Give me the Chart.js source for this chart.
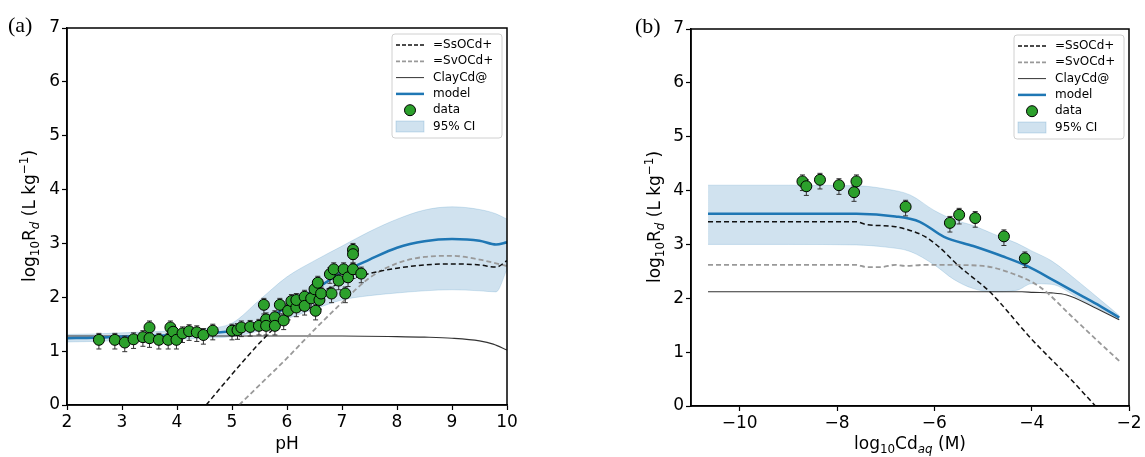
<!DOCTYPE html>
<html>
<head>
<meta charset="utf-8">
<script src="https://cdn.jsdelivr.net/npm/chart.js@4.4.0/dist/chart.umd.min.js"></script>
<style>
    body { margin: 0; background: #fff; width: 1145px; height: 457px; position: relative; overflow: hidden; }
    canvas { position: absolute; top: 0; }
    .painel { position: absolute; font-family: "Liberation Serif", serif; font-size: 22px; color: #000; }
    .titulo { position: absolute; font-family: "DejaVu Sans", sans-serif; font-size: 17px; color: #000; white-space: nowrap; transform: translate(-50%, -50%); }
    .titulo.rot { transform: translate(-50%, -50%) rotate(-90deg); }
    .titulo sub { font-size: 70%; vertical-align: -0.3em; line-height: 0; }
    .titulo sup { font-size: 70%; vertical-align: 0.55em; line-height: 0; }
</style>
</head>
<body>
<canvas id="graficoPH" width="560" height="457" style="left:0"></canvas>
<canvas id="graficoCd" width="525" height="457" style="left:620px"></canvas>
<div class="painel" style="left:8px;top:12px">(a)</div>
<div class="painel" style="left:635px;top:13px">(b)</div>
<div class="titulo rot" style="left:29px;top:216px">log<sub>10</sub>R<sub><i>d</i></sub> (L kg<sup>−1</sup>)</div>
<div class="titulo rot" style="left:654px;top:217px">log<sub>10</sub>R<sub><i>d</i></sub> (L kg<sup>−1</sup>)</div>
<div class="titulo" style="left:287px;top:443px">pH</div>
<div class="titulo" style="left:910px;top:443px">log<sub>10</sub>Cd<sub><i>aq</i></sub> (M)</div>
<script>
// ---- painel (a): Rd vs pH ----
const ticksPH = [2, 3, 4, 5, 6, 7, 8, 9, 10];
const ticksRd = [0, 1, 2, 3, 4, 5, 6, 7];

const phObs = [2.58, 2.87, 3.05, 3.21, 3.38, 3.50, 3.50, 3.67, 3.84, 3.88, 3.93, 3.99, 4.10, 4.22, 4.36, 4.48, 4.65,
    5.00, 5.10, 5.17, 5.33, 5.49, 5.58, 5.62, 5.62, 5.78, 5.78, 5.87, 5.94, 6.02, 6.08, 6.17, 6.17, 6.32, 6.32, 6.44,
    6.50, 6.52, 6.56, 6.59, 6.62, 6.78, 6.81, 6.85, 6.94, 7.03, 7.06, 7.11, 7.20, 7.20, 7.20, 7.35];
const rdObsPH = [1.21, 1.21, 1.16, 1.22, 1.26, 1.44, 1.24, 1.21, 1.21, 1.44, 1.36, 1.21, 1.33, 1.37, 1.35, 1.30, 1.38,
    1.38, 1.39, 1.44, 1.45, 1.47, 1.86, 1.59, 1.47, 1.63, 1.47, 1.86, 1.57, 1.75, 1.93, 1.81, 1.95, 2.01, 1.84, 1.98,
    2.15, 1.75, 2.27, 1.95, 2.07, 2.43, 2.07, 2.52, 2.31, 2.52, 2.07, 2.37, 2.52, 2.88, 2.80, 2.44];
// barras de erro: abaixo / acima do ponto
const erroInfPH = 0.17;
const erroSupPH = 0.12;

const phModelo = [2, 2.5, 3, 3.5, 4, 4.5, 5, 5.5, 6, 6.5, 7, 7.5, 8, 8.5, 9, 9.5, 9.8, 10];
const modeloPH = [1.24, 1.25, 1.27, 1.28, 1.30, 1.33, 1.38, 1.53, 1.82, 2.14, 2.46, 2.70, 2.92, 3.04, 3.08, 3.05, 2.98, 3.02];
const ciSupPH = [1.31, 1.32, 1.34, 1.36, 1.38, 1.42, 1.52, 1.95, 2.38, 2.68, 2.95, 3.22, 3.45, 3.62, 3.68, 3.63, 3.55, 3.45];
const ciInfPH = [1.17, 1.18, 1.20, 1.21, 1.22, 1.24, 1.27, 1.38, 1.60, 1.78, 1.95, 2.03, 2.08, 2.12, 2.14, 2.12, 2.10, 2.52];

const phSs = [4.53, 5.0, 5.5, 6.0, 6.5, 7.0, 7.5, 8.0, 8.5, 9.0, 9.5, 9.8, 10];
const ssPH = [0, 0.57, 1.15, 1.65, 2.02, 2.28, 2.44, 2.54, 2.60, 2.62, 2.60, 2.56, 2.68];
const phSv = [5.13, 5.5, 6.0, 6.5, 7.0, 7.5, 8.0, 8.5, 9.0, 9.5, 9.8, 10];
const svPH = [0, 0.37, 0.87, 1.40, 1.90, 2.36, 2.63, 2.75, 2.77, 2.70, 2.63, 2.58];
const phClay = [2, 3, 4, 5, 6, 7, 8, 8.5, 9, 9.5, 9.75, 10];
const clayPH = [1.28, 1.28, 1.28, 1.28, 1.28, 1.28, 1.27, 1.26, 1.24, 1.19, 1.13, 1.02];

// ---- painel (b): Rd vs log10 Cd ----
const ticksCd = [-10, -8, -6, -4, -2];

const cdObs = [-8.71, -8.63, -8.35, -7.96, -7.65, -7.60, -6.59, -5.68, -5.49, -5.16, -4.57, -4.14];
const rdObsCd = [4.17, 4.08, 4.20, 4.10, 3.97, 4.17, 3.70, 3.40, 3.55, 3.49, 3.15, 2.74];
const erroInfCd = 0.17;
const erroSupCd = 0.12;

const cdModelo = [-10.65, -9, -7.6, -6.8, -6.3, -5.8, -5.2, -4.6, -4.1, -3.5, -3.0, -2.6, -2.2];
const modeloCd = [3.57, 3.57, 3.57, 3.52, 3.42, 3.14, 2.97, 2.78, 2.60, 2.31, 2.06, 1.86, 1.64];
const cdCI = [-10.65, -9, -7.6, -7.0, -6.5, -6.0, -5.6, -5.2, -4.8, -4.3, -4.0, -3.6, -3.0, -2.6, -2.2];
const ciSupCd = [4.10, 4.10, 4.09, 4.03, 3.92, 3.63, 3.46, 3.35, 3.20, 3.02, 2.88, 2.70, 2.28, 1.98, 1.68];
const ciInfCd = [3.00, 3.00, 2.99, 2.95, 2.87, 2.62, 2.35, 2.18, 2.12, 2.15, 2.27, 2.26, 1.98, 1.80, 1.60];

const cdSs = [-10.65, -7.6, -7.4, -6.8, -6.5, -6.2, -5.9, -5.5, -5.2, -4.86, -4.0, -3.21, -2.69];
const ssCd = [3.42, 3.42, 3.37, 3.33, 3.26, 3.15, 2.95, 2.60, 2.38, 2.12, 1.24, 0.51, 0];
const cdSv = [-10.65, -7.6, -7.4, -7.1, -6.8, -6.6, -6.2, -5.8, -5.0, -4.4, -3.83, -3.14, -2.6, -2.18];
const svCd = [2.62, 2.62, 2.58, 2.58, 2.62, 2.60, 2.62, 2.62, 2.60, 2.46, 2.21, 1.63, 1.17, 0.82];
const cdClay = [-10.65, -4.2, -3.97, -3.6, -3.28, -2.73, -2.2];
const clayCd = [2.12, 2.12, 2.11, 2.10, 2.06, 1.84, 1.60];

const corModelo = '#1f77b4';
const corBanda = 'rgba(31, 119, 180, 0.21)';
const corPonto = '#2ca02c';
const fonte = '"DejaVu Sans", sans-serif';

function pares(xs, ys) {
    return xs.map((x, i) => ({ x: x, y: ys[i] }));
}

const barrasErro = {
    id: 'barrasErro',
    beforeDatasetDraw(chart, args) {
        const ds = chart.data.datasets[args.index];
        if (ds.erroInf === undefined) return;
        const ctx = chart.ctx;
        const y = chart.scales.y;
        ctx.save();
        ctx.strokeStyle = '#333';
        ctx.lineWidth = 1;
        args.meta.data.forEach((p, i) => {
            const v = ds.data[i].y;
            const y1 = y.getPixelForValue(v - ds.erroInf);
            const y2 = y.getPixelForValue(v + ds.erroSup);
            ctx.beginPath();
            ctx.moveTo(p.x, y1); ctx.lineTo(p.x, y2);
            ctx.moveTo(p.x - 2.5, y1); ctx.lineTo(p.x + 2.5, y1);
            ctx.moveTo(p.x - 2.5, y2); ctx.lineTo(p.x + 2.5, y2);
            ctx.stroke();
        });
        ctx.restore();
    }
};

const moldura = {
    id: 'moldura',
    afterDraw(chart) {
        const a = chart.chartArea;
        const ctx = chart.ctx;
        ctx.save();
        ctx.strokeStyle = '#000';
        ctx.lineWidth = 1.5;
        ctx.strokeRect(a.left, a.top, a.right - a.left, a.bottom - a.top);
        ctx.restore();
    }
};

const itensLegenda = [
    { texto: '=SsOCd+', tipo: 'linha', cor: '#111', largura: 1.5, traco: [4, 2] },
    { texto: '=SvOCd+', tipo: 'linha', cor: '#999', largura: 1.8, traco: [4, 2] },
    { texto: 'ClayCd@', tipo: 'linha', cor: '#333', largura: 1, traco: [] },
    { texto: 'model', tipo: 'linha', cor: corModelo, largura: 2.5, traco: [] },
    { texto: 'data', tipo: 'ponto' },
    { texto: '95% CI', tipo: 'area' }
];

const legenda = {
    id: 'legendaInterna',
    afterDraw(chart) {
        const a = chart.chartArea;
        const ctx = chart.ctx;
        const w = 110, h = 104;
        const x0 = a.right - 5 - w, y0 = a.top + 6;
        ctx.save();
        ctx.fillStyle = 'rgba(255,255,255,0.85)';
        ctx.strokeStyle = '#d0d0d0';
        ctx.lineWidth = 1;
        ctx.beginPath();
        ctx.roundRect(x0, y0, w, h, 3);
        ctx.fill();
        ctx.stroke();
        ctx.font = '12px ' + fonte;
        ctx.textBaseline = 'middle';
        itensLegenda.forEach((item, i) => {
            const cy = y0 + 11 + i * 16.3;
            const hx1 = x0 + 4, hx2 = x0 + 32;
            if (item.tipo === 'linha') {
                ctx.strokeStyle = item.cor;
                ctx.lineWidth = item.largura;
                ctx.setLineDash(item.traco);
                ctx.beginPath();
                ctx.moveTo(hx1, cy); ctx.lineTo(hx2, cy);
                ctx.stroke();
                ctx.setLineDash([]);
            } else if (item.tipo === 'ponto') {
                ctx.fillStyle = corPonto;
                ctx.strokeStyle = '#000';
                ctx.lineWidth = 1;
                ctx.beginPath();
                ctx.arc((hx1 + hx2) / 2, cy, 5.5, 0, Math.PI * 2);
                ctx.fill();
                ctx.stroke();
            } else {
                ctx.fillStyle = corBanda;
                ctx.strokeStyle = 'rgba(31,119,180,0.25)';
                ctx.lineWidth = 0.8;
                ctx.fillRect(hx1, cy - 5.5, hx2 - hx1, 11);
                ctx.strokeRect(hx1, cy - 5.5, hx2 - hx1, 11);
            }
            ctx.fillStyle = '#000';
            ctx.fillText(item.texto, x0 + 41, cy);
        });
        ctx.restore();
    }
};

function linha(dados, cor, largura, traco) {
    return {
        data: dados,
        showLine: true,
        borderColor: cor,
        borderWidth: largura,
        borderDash: traco,
        pointRadius: 0,
        fill: false,
        cubicInterpolationMode: 'monotone'
    };
}

function conjuntos(obsX, obsY, errInf, errSup, modX, modY, ciX, ciSup, ciInf, ssX, ssY, svX, svY, clX, clY) {
    return [
        {
            data: pares(obsX, obsY),
            erroInf: errInf,
            erroSup: errSup,
            pointRadius: 5.5,
            pointBackgroundColor: corPonto,
            pointBorderColor: '#000',
            pointBorderWidth: 1,
            showLine: false
        },
        linha(pares(modX, modY), corModelo, 2.5, []),
        linha(pares(ssX, ssY), '#111', 1.5, [5, 3]),
        linha(pares(svX, svY), '#999', 1.8, [5, 3]),
        linha(pares(clX, clY), '#333', 1.1, []),
        Object.assign(linha(pares(ciX, ciSup), 'rgba(31,119,180,0.22)', 0.8, []), { fill: '+1', backgroundColor: corBanda }),
        linha(pares(ciX, ciInf), 'rgba(31,119,180,0.22)', 0.8, [])
    ];
}

function opcoes(xMin, xMax, xTicks, eixoY, direita) {
    const grade = { display: true, drawOnChartArea: false, drawTicks: true, tickLength: 5, tickWidth: 1.2, color: '#000' };
    const borda = { display: true, color: '#000', width: 1.5 };
    const fonteTick = { family: fonte, size: 17 };
    return {
        responsive: false,
        animation: false,
        devicePixelRatio: 1,
        layout: { padding: { left: 0, right: direita, top: 28, bottom: 0 } },
        plugins: { legend: { display: false }, tooltip: { enabled: false } },
        scales: {
            x: {
                type: 'linear', min: xMin, max: xMax,
                afterBuildTicks: s => { s.ticks = xTicks.map(v => ({ value: v })); },
                afterFit: s => { s.height = 52; },
                grid: grade, border: borda,
                ticks: { font: fonteTick, color: '#000', padding: 2, autoSkip: false, maxRotation: 0,
                    callback: v => String(v).replace('-', '\u2212') }
            },
            y: {
                type: 'linear', min: 0, max: 7,
                afterBuildTicks: s => { s.ticks = ticksRd.map(v => ({ value: v })); },
                afterFit: s => { s.width = eixoY; },
                grid: grade, border: borda,
                ticks: { font: fonteTick, color: '#000', padding: 2, autoSkip: false }
            }
        }
    };
}

new Chart(document.getElementById('graficoPH'), {
    type: 'scatter',
    data: { datasets: conjuntos(phObs, rdObsPH, erroInfPH, erroSupPH, phModelo, modeloPH, phModelo, ciSupPH, ciInfPH, phSs, ssPH, phSv, svPH, phClay, clayPH) },
    options: opcoes(2, 10, ticksPH, 67, 53),
    plugins: [barrasErro, moldura, legenda]
});

const opB = opcoes(-11, -2, ticksCd, 71, 16);
opB.layout.padding.top = 29;
opB.scales.x.afterFit = s => { s.height = 51; };

new Chart(document.getElementById('graficoCd'), {
    type: 'scatter',
    data: { datasets: conjuntos(cdObs, rdObsCd, erroInfCd, erroSupCd, cdModelo, modeloCd, cdCI, ciSupCd, ciInfCd, cdSs, ssCd, cdSv, svCd, cdClay, clayCd) },
    options: opB,
    plugins: [barrasErro, moldura, legenda]
});
</script>
</body>
</html>
